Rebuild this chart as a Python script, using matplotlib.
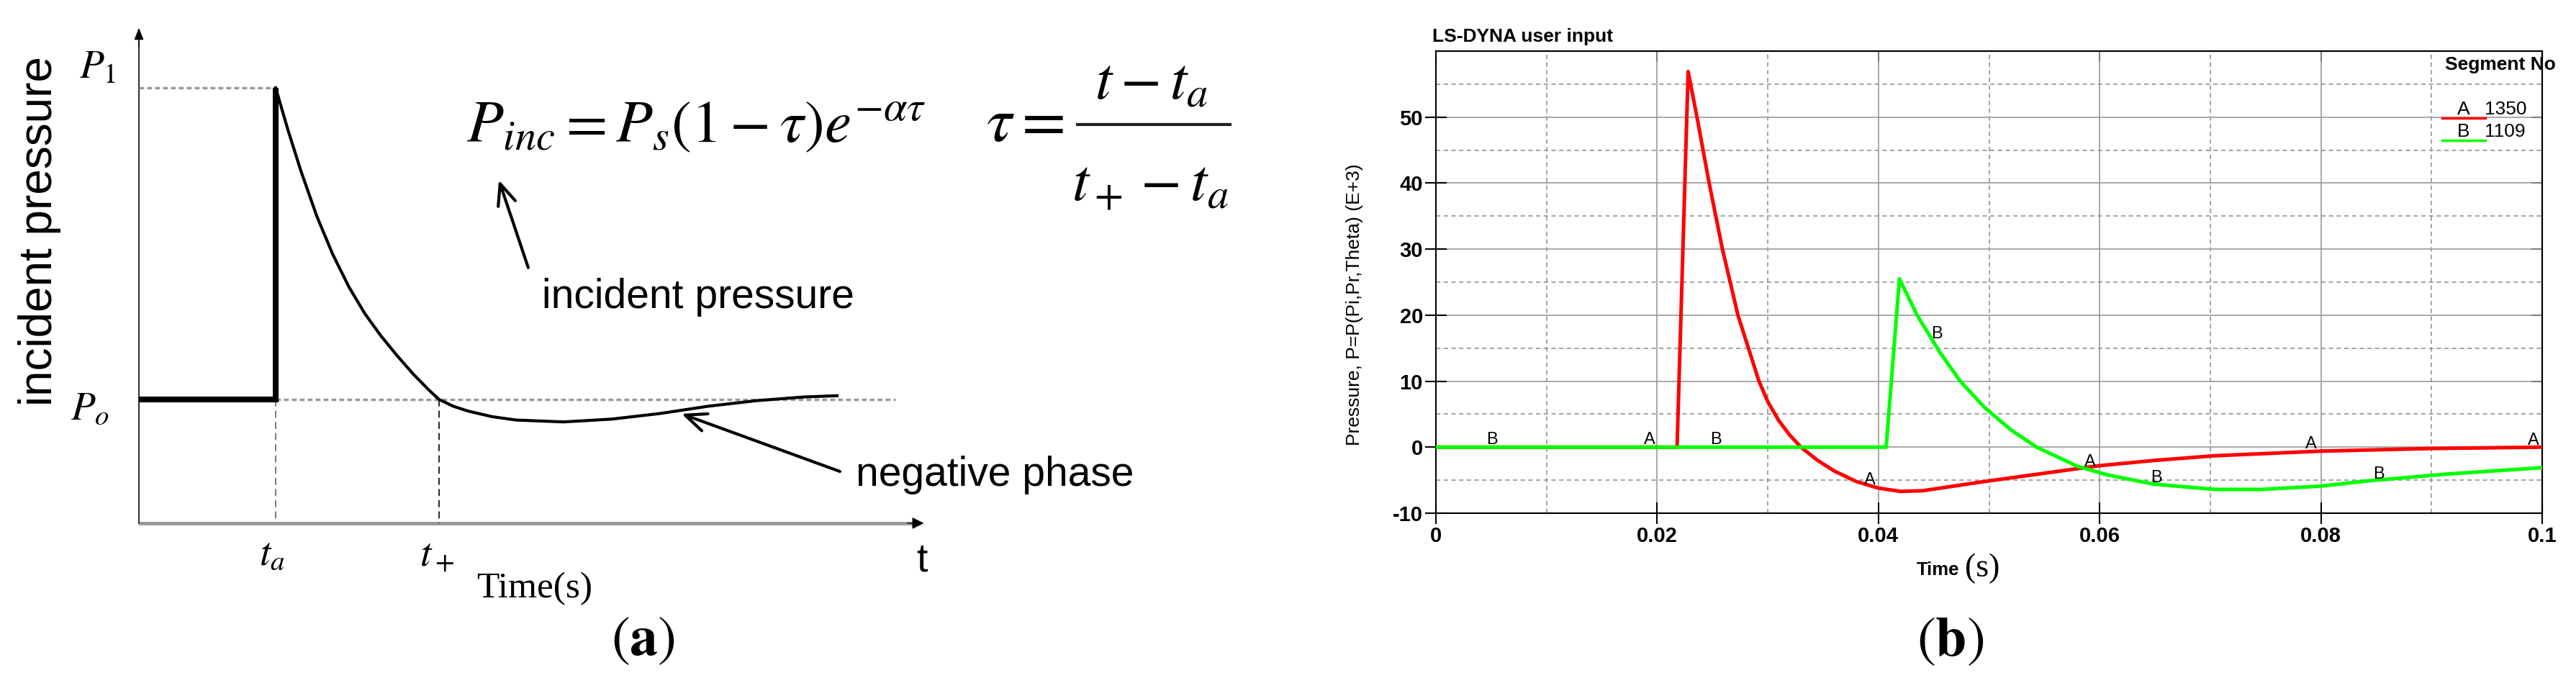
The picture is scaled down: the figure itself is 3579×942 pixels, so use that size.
import matplotlib
matplotlib.use('Agg')
import matplotlib.pyplot as plt
from matplotlib.lines import Line2D

# ---------------- data ----------------
# Panel (a): schematic incident pressure (normalised: t_a = 1, P_o = 0, P_1 = 1)
t_a = 1.0
t_plus = 2.195
P_o = 0.0
P_1 = 1.0
step_t = [0.0, 1.0, 1.0]
step_p = [0.0, 0.0, 1.0]
curve_t = [1.0, 1.089, 1.184, 1.30, 1.416, 1.537, 1.653, 1.768, 1.889, 2.005,
           2.121, 2.195, 2.30, 2.405, 2.58, 2.758, 3.105, 3.458, 3.811, 4.158,
           4.511, 4.863, 5.105]
curve_p = [1.0, 0.866, 0.734, 0.589, 0.467, 0.360, 0.275, 0.205, 0.140, 0.082,
           0.030, 0.0, -0.022, -0.037, -0.055, -0.066, -0.072, -0.063, -0.045, -0.022,
           -0.004, 0.008, 0.012]
axis_t_end = 5.74
axis_p_bottom = -0.397
axis_p_top = 1.192
po_line_end = 5.53

# Panel (b): LS-DYNA pressure curves
red_t = [0.0, 0.0218, 0.0228, 0.0236, 0.0247, 0.0259, 0.0273, 0.0292, 0.0300, 0.0310,
         0.0320, 0.0330, 0.0345, 0.0360, 0.0380, 0.0400, 0.0420, 0.0440, 0.0496, 0.0565,
         0.0600, 0.0650, 0.0704, 0.0800, 0.0900, 0.1000]
red_p = [0.0, 0.0, 56.9, 50.0, 40.0, 30.0, 20.0, 10.0, 6.9, 4.0,
         1.8, 0.0, -2.0, -3.6, -5.2, -6.2, -6.7, -6.6, -5.2, -3.6,
         -2.8, -2.0, -1.3, -0.6, -0.2, 0.0]
green_t = [0.0, 0.0407, 0.0419, 0.0435, 0.0455, 0.0474, 0.0496, 0.0520, 0.0543, 0.0580,
           0.0607, 0.0649, 0.0704, 0.0746, 0.0800, 0.0843, 0.0912, 0.1000]
green_p = [0.0, 0.0, 25.5, 20.0, 14.5, 10.0, 6.0, 2.6, 0.0, -2.9,
           -4.2, -5.6, -6.4, -6.4, -5.9, -5.1, -4.1, -3.1]
labelA_t = [0.0193, 0.0392, 0.0591, 0.0791, 0.0992]
labelA_p = [1.1, -5.0, -2.3, 0.5, 1.0]
labelB_t = [0.0051, 0.0253, 0.0453, 0.0651, 0.0852]
labelB_p = [1.1, 1.1, 17.1, -4.7, -4.1]
xticks_b = [0.0, 0.02, 0.04, 0.06, 0.08, 0.1]
xticklabels_b = ['0', '0.02', '0.04', '0.06', '0.08', '0.1']
yticks_b = [-10, 0, 10, 20, 30, 40, 50]
yticklabels_b = ['-10', '0', '10', '20', '30', '40', '50']
xminor_b = [0.01, 0.03, 0.05, 0.07, 0.09]
yminor_b = [-5, 5, 15, 25, 35, 45, 55]
segments = ['1350', '1109']
segment_letters = ['A', 'B']
segment_colors = ['#ff0000', '#00ff00']

# ---------------- figure ----------------
W, H, DPI = 3579, 942, 100
plt.rcParams['mathtext.fontset'] = 'stix'
plt.rcParams['font.family'] = ['Liberation Sans', 'DejaVu Sans']
fig = plt.figure(figsize=(W / DPI, H / DPI), dpi=DPI)
fig.patch.set_facecolor('white')


def fx(x):
    return x / W


def fy(y):
    return 1 - y / H


# ---------------- panel (a) ----------------
axA = fig.add_axes([fx(193), fy(727), (1314 - 193) / W, (727 - 14) / H])
axA.set_xlim(0, 5.9)
axA.set_ylim(-0.3972, 1.2494)
axA.axis('off')

# axes lines
axA.plot([0, axis_t_end - 0.05], [axis_p_bottom, axis_p_bottom], color='#9a9a9a', lw=3.6,
         solid_capstyle='butt', clip_on=False, zorder=2)
axA.annotate('', xy=(axis_t_end, axis_p_bottom), xytext=(axis_t_end - 0.12, axis_p_bottom),
             arrowprops=dict(arrowstyle='-|>,head_length=0.5,head_width=0.25', color='black',
                             lw=1, mutation_scale=20, shrinkA=0, shrinkB=0), annotation_clip=False)
axA.plot([0, 0], [axis_p_bottom, axis_p_top - 0.03], color='#333333', lw=1.5, clip_on=False)
axA.annotate('', xy=(0, axis_p_top), xytext=(0, axis_p_top - 0.06),
             arrowprops=dict(arrowstyle='-|>,head_length=0.5,head_width=0.2', color='black',
                             lw=1, mutation_scale=20, shrinkA=0, shrinkB=0), annotation_clip=False)

# guide lines
axA.plot([0, t_a], [P_1, P_1], color='#9a9a9a', lw=2.4, ls=(0, (2.0, 1.3)), clip_on=False)
axA.plot([t_a, po_line_end], [P_o, P_o], color='#9a9a9a', lw=2.4, ls=(0, (2.0, 1.3)), clip_on=False)
axA.plot([t_a, t_a], [P_o, axis_p_bottom], color='#777777', lw=1.4, ls=(0, (5, 3)))
axA.plot([t_plus, t_plus], [P_o, axis_p_bottom], color='#222222', lw=1.4, ls=(0, (5, 3)))

# pressure history
axA.plot(step_t, step_p, color='black', lw=5.8, solid_joinstyle='miter', solid_capstyle='butt', zorder=4)
axA.plot(curve_t, curve_p, color='black', lw=3.0, zorder=4)

# annotations
axA.annotate('', xy=(2.632, 0.704), xytext=(2.847, 0.423),
             arrowprops=dict(arrowstyle='->,head_length=0.7,head_width=0.3', color='black',
                             lw=3, mutation_scale=30, shrinkA=0, shrinkB=0))
axA.annotate('', xy=(3.968, -0.046), xytext=(5.126, -0.231),
             arrowprops=dict(arrowstyle='->,head_length=0.7,head_width=0.3', color='black',
                             lw=3, mutation_scale=30, shrinkA=0, shrinkB=0))

fig.text(fx(55), fy(321), 'incident pressure', rotation=90, ha='center', va='center', fontsize=46)
fig.text(fx(136), fy(95), r'$P_{\mathit{1}}$', ha='center', va='center', fontsize=40)
fig.text(fx(125), fy(568), r'$P_o$', ha='center', va='center', fontsize=40)
fig.text(fx(378), fy(771), r'$t_a$', ha='center', va='center', fontsize=40)
fig.text(fx(607), fy(771), r'$t_+$', ha='center', va='center', fontsize=40)
fig.text(fx(1281), fy(780), 't', ha='center', va='center', fontsize=40)
fig.text(fx(743), fy(818), 'Time(s)', ha='center', va='center', fontsize=37,
         family=['Liberation Serif', 'DejaVu Serif'])
fig.text(fx(893), fy(890), r'$(\mathbf{a})$', ha='center', va='center', fontsize=56)

# formulas
fig.text(fx(648), fy(197), r'$P_{inc}=P_s\left(1-\tau\right)e^{-\alpha\tau}$', ha='left',
         va='baseline', fontsize=60)
fig.text(fx(1478), fy(196), r'$\tau=$', ha='right', va='baseline', fontsize=64)
fig.text(fx(1600), fy(137), r'$t-t_a$', ha='center', va='baseline', fontsize=60)
fig.text(fx(1598), fy(278), r'$t_+-t_a$', ha='center', va='baseline', fontsize=60)
fig.add_artist(Line2D([fx(1497), fx(1709)], [fy(173), fy(173)], transform=fig.transFigure,
                      color='#222222', lw=3))

fig.text(fx(970), fy(413), 'incident pressure', ha='center', va='center', fontsize=41)
fig.text(fx(1382), fy(660), 'negative phase', ha='center', va='center', fontsize=41)

# ---------------- panel (b) ----------------
axB = fig.add_axes([fx(1995), fy(713), 1537 / W, 642 / H])
axB.set_xlim(0, 0.1)
axB.set_ylim(-10, 60)
axB.set_axisbelow(True)
axB.set_xticks(xticks_b)
axB.set_xticklabels(xticklabels_b)
axB.set_yticks(yticks_b)
axB.set_yticklabels(yticklabels_b)
axB.set_xticks(xminor_b, minor=True)
axB.set_yticks(yminor_b, minor=True)
axB.grid(which='major', color='#9a9a9a', lw=1.2, ls='-')
axB.grid(which='minor', color='#8a8a8a', lw=1.1, ls=(0, (4, 3)))
axB.tick_params(which='major', direction='inout', length=22, width=1.5, labelsize=21, pad=2)
axB.tick_params(which='minor', length=0)
for lbl in axB.get_xticklabels() + axB.get_yticklabels():
    lbl.set_fontweight('bold')
for sp in axB.spines.values():
    sp.set_linewidth(1.5)
    sp.set_color('black')

secx = axB.secondary_xaxis('top')
secx.set_xticks(xticks_b, labels=[''] * len(xticks_b))
secx.tick_params(direction='in', length=11, width=1.5)
secx.spines['top'].set_linewidth(1.5)
secy = axB.secondary_yaxis('right')
secy.set_yticks(yticks_b, labels=[''] * len(yticks_b))
secy.tick_params(direction='in', length=11, width=1.5)
secy.spines['right'].set_linewidth(1.5)

axB.plot(red_t, red_p, color=segment_colors[0], lw=3.6, zorder=3)
axB.plot(green_t, green_p, color=segment_colors[1], lw=3.6, zorder=4)
for t, p in zip(labelA_t, labelA_p):
    axB.text(t, p, 'A', ha='center', va='center', fontsize=17, zorder=5)
for t, p in zip(labelB_t, labelB_p):
    axB.text(t, p, 'B', ha='center', va='center', fontsize=17, zorder=5)

fig.text(fx(1990), fy(51), 'LS-DYNA user input', ha='left', va='center', fontsize=19, fontweight='bold')
fig.text(fx(1882), fy(423), 'Pressure, P=P(Pi,Pr,Theta) (E+3)', rotation=90, ha='center',
         va='center', fontsize=19)
fig.text(fx(3397), fy(90), 'Segment No', ha='left', va='center', fontsize=19, fontweight='bold')
for i, (letter, seg, col) in enumerate(zip(segment_letters, segments, segment_colors)):
    yc = 152 + 31 * i
    fig.text(fx(3423), fy(yc), letter, ha='center', va='center', fontsize=19)
    fig.text(fx(3452), fy(yc), seg, ha='left', va='center', fontsize=19)
    fig.add_artist(Line2D([fx(3393), fx(3453)], [fy(yc + 12), fy(yc + 12)],
                          transform=fig.transFigure, color=col, lw=2.5))

fig.text(fx(2722), fy(792), 'Time', ha='right', va='center', fontsize=18.5, fontweight='bold')
fig.text(fx(2730), fy(790), '(s)', ha='left', va='center', fontsize=33,
         family=['Liberation Serif', 'DejaVu Serif'])
fig.text(fx(2710), fy(891), r'$(\mathbf{b})$', ha='center', va='center', fontsize=56)

fig.savefig('out.png', dpi=DPI, facecolor='white')
